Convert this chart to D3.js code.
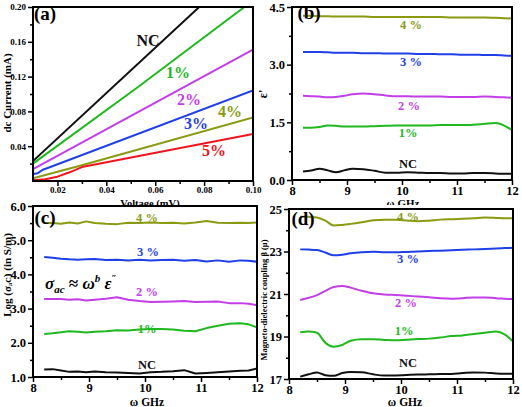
<!DOCTYPE html>
<html><head><meta charset="utf-8">
<script src="https://cdn.jsdelivr.net/npm/d3@7"></script>
<style>
body{margin:0;background:#fff;}
svg{display:block;}
text{font-family:"Liberation Serif","Times New Roman",serif;font-weight:bold;}
</style></head>
<body><svg id="c" width="522" height="407"></svg>
<script>
// ---------- DATA ----------
const seriesNames = ["NC","1%","2%","3%","4%","5%"];
const seriesColors = {"NC":"#111111","1%":"#1fb81f","2%":"#c23ee8","3%":"#1f3fe8","4%":"#8a9a12","5%":"#f0141c"};

// (a) dc current vs voltage
const aVoltNC = [0.01, 0.078];           const aCurNC = [0.023, 0.200];
const aVolt1  = [0.01, 0.052, 0.0965];   const aCur1  = [0.020, 0.106, 0.200];
const aVolt2  = [0.01, 0.10];            const aCur2  = [0.0137, 0.151];
const aVolt3  = [0.01, 0.012, 0.014, 0.016, 0.10]; const aCur3 = [0.008, 0.009, 0.013, 0.015, 0.104];
const aVolt4  = [0.01, 0.03, 0.10];      const aCur4  = [0.003, 0.018, 0.073];
const aVolt5  = [0.01, 0.015, 0.02, 0.025, 0.03, 0.10]; const aCur5 = [0.001, 0.002, 0.005, 0.010, 0.016, 0.054];
const aXTicks = [0.02, 0.04, 0.06, 0.08, 0.10];
const aYTicks = [0.04, 0.08, 0.12, 0.16, 0.20];

// common frequency grid (GHz) for b, c, d
const freqs = [8.2,8.35,8.5,8.65,8.8,8.95,9.1,9.3,9.5,9.7,9.9,10.1,10.3,10.5,10.7,10.9,11.1,11.3,11.5,11.7,11.85,12.0];
const fTicks = [8,9,10,11,12];

// (b) epsilon'
const epsNC = [0.22,0.25,0.29,0.25,0.20,0.25,0.29,0.28,0.24,0.19,0.19,0.20,0.19,0.18,0.18,0.17,0.17,0.18,0.18,0.17,0.16,0.16];
const eps1  = [1.36,1.36,1.38,1.42,1.41,1.39,1.39,1.39,1.40,1.41,1.42,1.42,1.42,1.42,1.43,1.43,1.43,1.44,1.46,1.48,1.42,1.30];
const eps2  = [2.19,2.18,2.17,2.15,2.16,2.19,2.23,2.25,2.23,2.20,2.18,2.18,2.17,2.17,2.17,2.16,2.16,2.16,2.17,2.16,2.15,2.14];
const eps3  = [3.33,3.33,3.33,3.32,3.31,3.31,3.31,3.30,3.30,3.29,3.29,3.29,3.28,3.28,3.27,3.27,3.26,3.26,3.25,3.25,3.24,3.23];
const eps4  = [4.27,4.27,4.26,4.26,4.25,4.25,4.25,4.25,4.24,4.24,4.24,4.24,4.24,4.24,4.24,4.23,4.23,4.23,4.23,4.22,4.21,4.20];
const epsYTicks = [0.0,1.5,3.0,4.5];

// (c) log sigma_ac
const sigNC = [1.22,1.23,1.19,1.15,1.16,1.14,1.16,1.14,1.13,1.12,1.10,1.14,1.15,1.17,1.20,1.10,1.12,1.14,1.16,1.18,1.19,1.25];
const sig1  = [2.26,2.28,2.31,2.34,2.32,2.30,2.32,2.34,2.37,2.36,2.39,2.40,2.40,2.39,2.35,2.34,2.43,2.50,2.56,2.57,2.54,2.45];
const sig2  = [3.28,3.28,3.28,3.26,3.27,3.24,3.26,3.29,3.33,3.26,3.22,3.19,3.20,3.21,3.22,3.19,3.20,3.21,3.16,3.16,3.14,3.10];
const sig3  = [4.51,4.49,4.46,4.44,4.43,4.44,4.45,4.42,4.43,4.41,4.43,4.41,4.42,4.43,4.40,4.42,4.38,4.41,4.37,4.41,4.40,4.37];
const sig4  = [5.50,5.50,5.48,5.52,5.49,5.55,5.50,5.48,5.47,5.51,5.50,5.52,5.50,5.51,5.49,5.52,5.56,5.51,5.50,5.51,5.50,5.52];
const sigYTicks = [1.0,2.0,3.0,4.0,5.0,6.0];

// (d) magneto-dielectric coupling
const betaNC = [17.11,17.22,17.31,17.18,17.15,17.28,17.33,17.32,17.22,17.16,17.17,17.19,17.21,17.22,17.23,17.24,17.28,17.31,17.30,17.26,17.25,17.25];
const beta1  = [19.20,19.24,19.18,18.70,18.52,18.60,18.80,18.87,18.87,18.84,18.82,18.85,18.88,18.90,18.95,19.02,19.05,19.12,19.18,19.23,19.10,18.76];
const beta2  = [20.72,20.82,20.95,21.15,21.33,21.38,21.30,21.15,21.03,20.98,20.95,20.92,20.88,20.85,20.80,20.78,20.80,20.84,20.84,20.80,20.78,20.76];
const beta3  = [23.10,23.09,23.07,22.95,22.82,22.85,22.92,22.97,22.99,22.97,22.96,22.98,23.00,23.02,23.04,23.06,23.08,23.10,23.12,23.14,23.16,23.18];
const beta4  = [24.64,24.63,24.60,24.45,24.22,24.25,24.30,24.38,24.47,24.50,24.49,24.46,24.42,24.45,24.50,24.52,24.54,24.57,24.60,24.58,24.56,24.56];
const betaYTicks = [17,19,21,23,25];

// ---------- DRAW ----------
const svg = d3.select("#c");
let clipId = 0;

function panel(o){
  const g = svg.append("g");
  const x = d3.scaleLinear().domain(o.xDom).range([o.x0,o.x1]);
  const y = d3.scaleLinear().domain(o.yDom).range([o.y0,o.y1]);
  const id = "clip"+(clipId++);
  g.append("clipPath").attr("id",id).append("rect")
    .attr("x",o.x0).attr("y",o.y1).attr("width",o.x1-o.x0).attr("height",o.y0-o.y1);
  const line = d3.line().x(d=>x(d[0])).y(d=>y(d[1])).curve(o.curve||d3.curveLinear);
  const lg = g.append("g").attr("clip-path","url(#"+id+")");
  o.series.forEach(s=>{
    lg.append("path").datum(s.xs.map((v,i)=>[v,s.ys[i]]))
      .attr("d",line).attr("fill","none").attr("stroke",seriesColors[s.name])
      .attr("stroke-width",2).attr("stroke-linejoin","round");
  });
  const xMinor = [], yMinor = [];
  for(let i=0;i<o.xTicks.length-1;i++) xMinor.push((o.xTicks[i]+o.xTicks[i+1])/2);
  for(let i=0;i<o.yTicks.length-1;i++) yMinor.push((o.yTicks[i]+o.yTicks[i+1])/2);
  if(o.yMinorBefore!==undefined) yMinor.unshift(o.yMinorBefore);
  const xa = g.append("g").attr("transform",`translate(0,${o.y0})`)
    .call(d3.axisBottom(x).tickValues(o.xTicks).tickSize(5).tickPadding(o.xPad).tickFormat(o.xFmt));
  g.append("g").attr("transform",`translate(0,${o.y0})`)
    .call(d3.axisBottom(x).tickValues(xMinor).tickSize(3).tickFormat(""));
  const ya = g.append("g").attr("transform",`translate(${o.x0},0)`)
    .call(d3.axisLeft(y).tickValues(o.yTicks).tickSize(5).tickPadding(2).tickFormat(o.yFmt));
  g.append("g").attr("transform",`translate(${o.x0},0)`)
    .call(d3.axisLeft(y).tickValues(yMinor).tickSize(3).tickFormat(""));
  g.selectAll(".domain").remove();
  g.selectAll(".tick line").attr("stroke","#000").attr("stroke-width",1.5);
  xa.selectAll("text").attr("font-size",o.xFs).attr("fill","#000");
  ya.selectAll("text").attr("font-size",o.yFs).attr("fill","#000");
  g.append("rect").attr("x",o.x0).attr("y",o.y1).attr("width",o.x1-o.x0).attr("height",o.y0-o.y1)
    .attr("fill","none").attr("stroke","#000").attr("stroke-width",2);
  o.labels.forEach(l=>{
    g.append("text").attr("x",l[1]).attr("y",l[2]).attr("text-anchor","middle")
      .attr("dominant-baseline","middle").attr("font-size",o.lblFs)
      .attr("fill",seriesColors[l[0]]).text(l[3]||l[0]);
  });
  g.append("text").attr("x",o.tag[1]).attr("y",o.tag[2]).attr("text-anchor","middle")
    .attr("dominant-baseline","middle").attr("font-size",19).text(o.tag[0]);
  g.append("text").attr("x",o.xl[1]).attr("y",o.xl[2]).attr("text-anchor","middle")
    .attr("font-size",o.xl[3]).text(o.xl[0]);
  g.append("text").attr("transform",`translate(${o.yl[1]},${o.yl[2]}) rotate(-90)`)
    .attr("text-anchor","middle").attr("dominant-baseline","middle")
    .attr("font-size",o.yl[3]).text(o.yl[0]);
  return {g,x,y};
}

// (a)
panel({
  xDom:[0.01,0.10], yDom:[0,0.20], x0:33, x1:253, y0:181, y1:7,
  xTicks:aXTicks, yTicks:aYTicks, yMinorBefore:0.02,
  xFmt:d3.format(".2f"), yFmt:d3.format(".2f"), xFs:9, yFs:9, xPad:1,
  series:[
    {name:"NC",xs:aVoltNC,ys:aCurNC},{name:"1%",xs:aVolt1,ys:aCur1},
    {name:"2%",xs:aVolt2,ys:aCur2},{name:"3%",xs:aVolt3,ys:aCur3},
    {name:"4%",xs:aVolt4,ys:aCur4},{name:"5%",xs:aVolt5,ys:aCur5}],
  labels:[["NC",148,42],["1%",178,74],["2%",189,101],["3%",196,125],["4%",230,113],["5%",214,152]],
  lblFs:16, tag:["(a)",45,16],
  xl:["Voltage (mV)",150,207,10.5], yl:["dc Current (mA)",8,93,11]
});

// (b)
panel({
  xDom:[8,12], yDom:[0,4.5], x0:292, x1:512, y0:180, y1:7,
  xTicks:fTicks, yTicks:epsYTicks,
  xFmt:d3.format("d"), yFmt:d3.format(".1f"), xFs:12.5, yFs:12.5, xPad:1,
  curve:d3.curveMonotoneX,
  series:[
    {name:"NC",xs:freqs,ys:epsNC},{name:"1%",xs:freqs,ys:eps1},{name:"2%",xs:freqs,ys:eps2},
    {name:"3%",xs:freqs,ys:eps3},{name:"4%",xs:freqs,ys:eps4}],
  labels:[["4%",411,26,"4 %"],["3%",411,63,"3 %"],["2%",409,107,"2 %"],["1%",408,134,"1%"],["NC",408,165]],
  lblFs:12.5, tag:["(b)",309,15],
  xl:["ω GHz",403,206.5,11], yl:["ε'",264,94,12]
});

svg.append("rect").attr("x",0).attr("y",205).attr("width",522).attr("height",202).attr("fill","#fff");

// (c)
const pc = panel({
  xDom:[8,12], yDom:[1,6], x0:33, x1:257, y0:377, y1:206,
  xTicks:fTicks, yTicks:sigYTicks,
  xFmt:d3.format("d"), yFmt:d3.format(".1f"), xFs:12.5, yFs:12.5, xPad:1,
  series:[
    {name:"NC",xs:freqs,ys:sigNC},{name:"1%",xs:freqs,ys:sig1},{name:"2%",xs:freqs,ys:sig2},
    {name:"3%",xs:freqs,ys:sig3},{name:"4%",xs:freqs,ys:sig4}],
  labels:[["4%",147,219,"4 %"],["3%",148,253,"3 %"],["2%",147,293,"2 %"],["1%",147,330,"1%"],["NC",147,366]],
  lblFs:12.5, tag:["(c)",45,220],
  xl:["ω GHz",147,405.5,11.5], yl:["Log (σ\u2090\u1D04) (in S/m)",8,275,11]
});
const f = pc.g.append("text").attr("x",45).attr("y",289).attr("font-size",17).attr("font-style","italic");
f.append("tspan").text("σ");
f.append("tspan").attr("font-size",11).attr("dy",4).text("ac");
f.append("tspan").attr("dy",-4).attr("font-style","normal").text(" ≈ ");
f.append("tspan").text("ω");
f.append("tspan").attr("font-size",11).attr("dy",-7).text("b");
f.append("tspan").attr("dy",7).text(" ε");
f.append("tspan").attr("font-size",9).attr("dy",-8).attr("font-style","normal").text("\u2033");

// (d)
panel({
  xDom:[8,12], yDom:[17,25], x0:289, x1:513, y0:379, y1:209,
  xTicks:fTicks, yTicks:betaYTicks,
  xFmt:d3.format("d"), yFmt:d3.format("d"), xFs:12.5, yFs:12.5, xPad:1,
  curve:d3.curveMonotoneX,
  series:[
    {name:"NC",xs:freqs,ys:betaNC},{name:"1%",xs:freqs,ys:beta1},{name:"2%",xs:freqs,ys:beta2},
    {name:"3%",xs:freqs,ys:beta3},{name:"4%",xs:freqs,ys:beta4}],
  labels:[["4%",408,218,"4 %"],["3%",408,260,"3 %"],["2%",406,304,"2 %"],["1%",404,332,"1%"],["NC",408,364]],
  lblFs:12.5, tag:["(d)",303,221],
  xl:["ω GHz",405,406,11.5], yl:["Magneto-dielectric coupling β (μ)",265,300,8.5]
});
</script></body></html>
